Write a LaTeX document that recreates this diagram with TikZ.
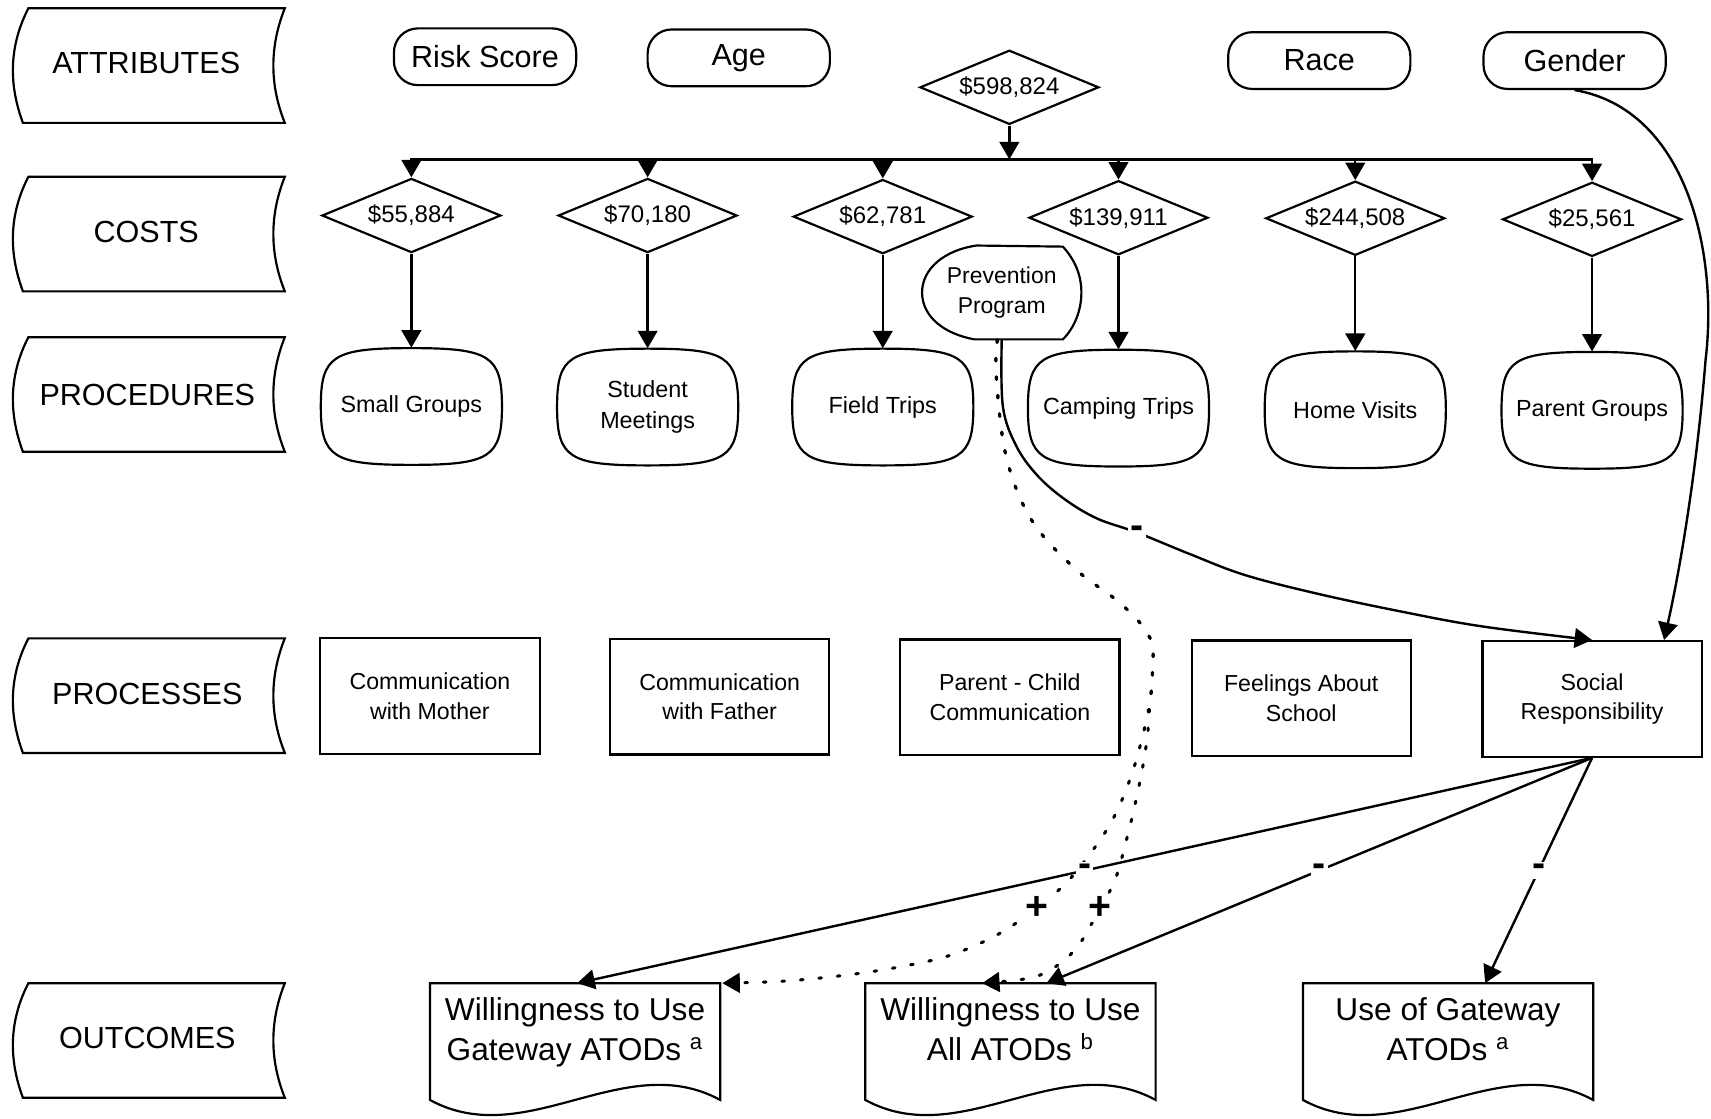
\documentclass[tikz,border=0pt]{standalone}
\usepackage{fontspec}
\setmainfont{Liberation Sans}
\usetikzlibrary{arrows.meta,shapes.geometric,calc}
\tikzset{
  shapeline/.style={draw, line width=1pt},
  lbltext/.style={inner sep=0pt, font=\fontsize{14}{16}\selectfont},
  pill/.style={draw, line width=1pt, rounded corners=11pt, minimum width=83.5pt, minimum height=26pt, inner sep=0pt, font=\fontsize{14}{16}\selectfont},
  dia/.style={draw, line width=1pt, diamond, aspect=2.4, minimum width=82pt, minimum height=34pt, inner sep=0pt, font=\fontsize{11}{13}\selectfont},
  proctext/.style={minimum width=83pt, minimum height=53.5pt, inner sep=0pt, align=center, font=\fontsize{10.7}{14}\selectfont},
  procbox/.style={draw, line width=1pt, rectangle, minimum width=100.5pt, minimum height=53pt, inner sep=0pt, align=center, font=\fontsize{10.6}{13.5}\selectfont},
  pptext/.style={minimum width=74pt, minimum height=43pt, inner sep=0pt, align=center, font=\fontsize{10.5}{14}\selectfont},
  outtext/.style={inner sep=0pt, align=center, font=\fontsize{14.5}{18.5}\selectfont},
  conn/.style={draw, line width=1.1pt, -{Triangle[length=8pt,width=9pt]}},
  dotconn/.style={draw, line width=1.4pt, dash pattern=on 1.2pt off 7.3pt, line cap=round, -{Triangle[length=8pt,width=9pt]}},
  sign/.style={fill=white, inner sep=1pt, font=\fontsize{18}{18}\selectfont\bfseries}
}
\newcommand\lblshape[1]{%
  \draw[shapeline] (26,#1) -- (261,#1) .. controls (247,#1+35) and (247,#1+70) .. (261,#1+105) -- (21,#1+105) .. controls (8,#1+70) and (8,#1+35) .. (26,#1) -- cycle;}
\newcommand\procshape[2]{%
  \draw[shapeline] (#1,#2-53.5) .. controls (#1+72,#2-53.5) and (#1+83,#2-46.5) .. (#1+83,#2)
    .. controls (#1+83,#2+46.5) and (#1+72,#2+53.5) .. (#1,#2+53.5)
    .. controls (#1-72,#2+53.5) and (#1-83,#2+46.5) .. (#1-83,#2)
    .. controls (#1-83,#2-46.5) and (#1-72,#2-53.5) .. (#1,#2-53.5) -- cycle;}
\newcommand\outshape[1]{%
  \draw[shapeline] (#1-133,901) -- (#1+133,901) -- (#1+133,1008) .. controls (#1+45,960) and (#1-45,1056) .. (#1-133,1008) -- cycle;}
\begin{document}
\begin{tikzpicture}[x=0.5pt,y=-0.5pt]
\useasboundingbox[fill=white] (0,0) rectangle (1568,1025);

% row labels
\lblshape{7.6}  \node[lbltext] (lA)  at (134,58)  {ATTRIBUTES};
\lblshape{162}  \node[lbltext] (lC)  at (134,213) {COSTS};
\lblshape{309}  \node[lbltext] (lPr) at (135,362) {PROCEDURES};
\lblshape{585}  \node[lbltext] (lPs) at (135,636) {PROCESSES};
\lblshape{901}  \node[lbltext] (lO)  at (135,951) {OUTCOMES};

% attributes
\node[pill] (risk)   at (444.5,52)  {Risk Score};
\node[pill] (age)    at (677,53)    {Age};
\node[pill] (race)   at (1209,55.5) {Race};
\node[pill] (gender) at (1443,55.5) {Gender};

% costs
\node[dia] (total) at (925,80) {\$598,824};
\coordinate (bus) at (925,146);
\node[dia] (c1) at (377,197.5)  {\$55,884};
\node[dia] (c2) at (593.5,197.5) {\$70,180};
\node[dia] (c3) at (809,198.5)  {\$62,781};
\node[dia] (c4) at (1025,199.5) {\$139,911};
\node[dia] (c5) at (1242,200)   {\$244,508};
\node[dia] (c6) at (1459,201)   {\$25,561};

% prevention program
\draw[shapeline] (895,225) -- (974,226) .. controls (985,238) and (991,252) .. (991,268)
  .. controls (991,284) and (985,300) .. (974,311) -- (893,311)
  .. controls (865,306) and (845,290) .. (845,268) .. controls (845,246) and (866,229) .. (895,225) -- cycle;
\node[pptext] (pp) at (918,268) {Prevention\\Program};

% procedures
\procshape{377}{372.5}   \node[proctext] (sg) at (377,372.5) {Small Groups};
\procshape{593.5}{373}   \node[proctext] (sm) at (593.5,373) {Student\\Meetings};
\procshape{809}{373}     \node[proctext] (ft) at (809,373) {Field Trips};
\procshape{1025}{374}    \node[proctext] (ct) at (1025,374) {Camping Trips};
\procshape{1242}{375.5}  \node[proctext] (hv) at (1242,375.5) {Home Visits};
\procshape{1459}{376}    \node[proctext] (pg) at (1459,376) {Parent Groups};

% processes
\node[procbox] (cm) at (394,638)     {Communication\\with Mother};
\node[procbox] (cf) at (659.5,638.5) {Communication\\with Father};
\node[procbox] (pc) at (925.5,639)   {Parent - Child\\Communication};
\node[procbox] (fs) at (1192.5,640)  {Feelings About\\School};
\node[procbox] (sr) at (1459,640.5)  {Social\\Responsibility};

% outcomes
\outshape{527}  \node[outtext] (gw) at (527,946)  {Willingness to Use\strut\\Gateway ATODs \textsuperscript{a}\strut};
\outshape{926}  \node[outtext] (al) at (926,946)  {Willingness to Use\strut\\All ATODs \textsuperscript{b}\strut};
\outshape{1327} \node[outtext] (ug) at (1327,946) {Use of Gateway\strut\\ATODs \textsuperscript{a}\strut};

\coordinate (gwA) at (529,901);
\coordinate (gwT) at (662,901);
\coordinate (alT) at (900,901);
\coordinate (alB) at (959,901);
\coordinate (ugT) at (1361,901);
\coordinate (srG) at ($(sr.north)!0.65!(sr.north east)$);

% cost tree
\draw[conn] (total.south) -- (bus);
\foreach \c in {c1,c2,c3,c4,c5,c6} \draw[conn] (bus) -| (\c.north);
\draw[conn] (c1.south) -- (sg.north);
\draw[conn] (c2.south) -- (sm.north);
\draw[conn] (c3.south) -- (ft.north);
\draw[conn] (c4.south) -- (ct.north);
\draw[conn] (c5.south) -- (hv.north);
\draw[conn] (c6.south) -- (pg.north);

% gender -> social responsibility
\draw[conn] (gender.south) .. controls (1545,100) and (1575,230) .. (1563,330)
  .. controls (1555,430) and (1540,520) .. (srG);

% prevention program -> social responsibility
\draw[conn] plot[smooth, tension=0.6] coordinates {(pp.south) (919,372) (931,408) (950,435) (975,457) (1005,475) (1042,488) (1091,508) (1141,527) (1207,544) (1282,560) (1358,574) (sr.north)};

% prevention program -> willingness (dotted)
\draw[dotconn] plot[smooth, tension=0.6] coordinates {([xshift=-2pt]pp.south) (913,345) (922,418) (945,476) (985,521) (1028,554) (1054,585) (1056,620) (1052,654) (1048,671) (1039,704) (1026,738) (1010,767) (980,806) (950,832) (915,856) (872,875) (830,885) (780,893) (720,899) (gwT)};
\draw[dotconn] plot[smooth, tension=0.6] coordinates {([xshift=-2pt]pp.south) (913,345) (922,418) (945,476) (985,521) (1028,554) (1054,585) (1056,620) (1053,654) (1052,671) (1047,704) (1040,738) (1033,767) (1022,806) (1008,832) (990,864) (970,884) (945,896) (alT)};

% social responsibility -> outcomes
\draw[conn] (sr.south) -- node[sign, pos=0.5] (m2) {-} (gwA);
\draw[conn] (sr.south) -- node[sign, pos=0.5] (m3) {-} (alB);
\draw[conn] (sr.south) -- node[sign, pos=0.5] (m4) {-} (ugT);

% signs
\node[sign] (m1) at (1042,488) {-};
\node[sign] (p1) at (950,832) {+};
\node[sign] (p2) at (1008,832) {+};
\end{tikzpicture}
\end{document}
